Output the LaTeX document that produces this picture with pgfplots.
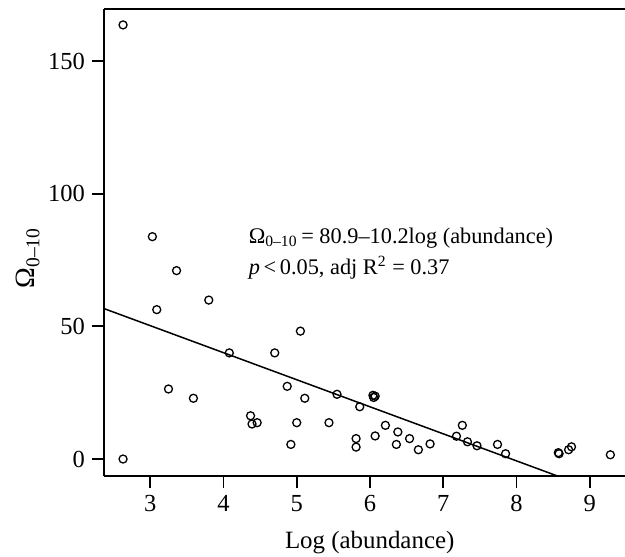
\documentclass[border=0pt]{standalone}
\usepackage{pgfplots}
\pgfplotsset{compat=1.18}
\usepackage{fontspec}
\setmainfont{Liberation Serif}

\begin{document}
\begin{tikzpicture}
\begin{axis}[
    scale only axis,
    width=260.5bp, height=233.5bp,
    xmin=2.37, xmax=9.48,
    ymin=-6.4, ymax=169.6,
    xtick={3,4,5,6,7,8,9},
    ytick={0,50,100,150},
    axis x line=box,
    axis y line*=left,
    axis line style={-, line width=1.2bp},
    xtick pos=bottom, ytick pos=left,
    tick align=outside,
    major tick length=6bp,
    tick style={line width=0.9bp, black},
    /pgf/number format/assume math mode=true,
    ticklabel style={font=\fontsize{12.3}{14}\selectfont},
    xlabel={Log (abundance)},
    ylabel={Ω\textsubscript{0–10}},
    every axis x label/.style={at={(rel axis cs:0.51,0)}, anchor=base, yshift=-36bp,
        font=\fontsize{12.5}{15}\selectfont},
    every axis y label/.style={at={(rel axis cs:0,0.467)}, anchor=center, xshift=-38bp,
        rotate=90, font=\fontsize{14}{16}\selectfont},
]
\addplot[only marks, mark=o, mark size=2bp, mark options={line width=0.65bp}, black]
coordinates {
(2.63,163.6)(2.63,0.0)(3.03,83.8)(3.09,56.3)(3.25,26.4)(3.36,71.0)
(3.59,22.9)(3.80,59.9)(4.08,40.0)(4.37,16.3)(4.39,13.2)(4.46,13.7)
(4.70,40.0)(4.87,27.4)(4.92,5.5)(5.00,13.7)(5.05,48.2)(5.11,22.9)
(5.44,13.7)(5.55,24.4)(5.81,7.7)(5.81,4.5)(5.86,19.7)(6.04,24.0)
(6.05,23.2)(6.07,23.7)(6.07,8.7)(6.21,12.7)(6.36,5.5)(6.38,10.2)
(6.54,7.7)(6.66,3.5)(6.82,5.7)(7.18,8.6)(7.26,12.7)(7.33,6.5)
(7.46,5.0)(7.74,5.5)(7.85,2.0)(8.57,2.4)(8.58,2.0)(8.71,3.5)
(8.75,4.6)(9.28,1.6)
};
% fitted line: 80.9 - 10.2 log(abundance)
\addplot[black, line width=0.75bp] coordinates {(2.37,56.7)(8.6,-6.82)};
\node[anchor=base west, font=\fontsize{11.2}{13}\selectfont, inner sep=0pt]
    at (axis cs:4.34,81.4) {Ω\textsubscript{0–10}\,= 80.9–10.2log (abundance)};
\node[anchor=base west, font=\fontsize{11.2}{13}\selectfont, inner sep=0pt]
    at (axis cs:4.34,69.4) {\textit{p}\,<\,0.05, adj R\textsuperscript{2} = 0.37};
\end{axis}
\pgfresetboundingbox
\path (current axis.south west) ++(-52bp,-40bp) rectangle ([yshift=4.5bp]current axis.north east);
\end{tikzpicture}
\end{document}
